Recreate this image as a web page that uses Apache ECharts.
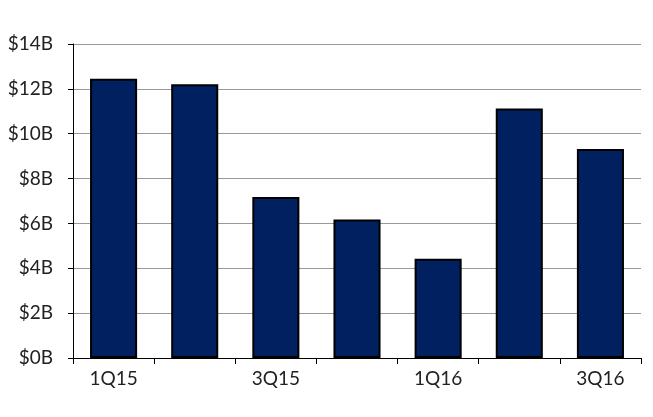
<!DOCTYPE html>
<html><head><meta charset="utf-8">
<script src="https://cdn.jsdelivr.net/npm/echarts@6/dist/echarts.min.js"></script>
<style>html,body{margin:0;padding:0;background:#fff}#c{width:653px;height:417px}</style>
</head><body><div id="c"></div>
<script>
var categories = ['1Q15','2Q15','3Q15','4Q15','1Q16','2Q16','3Q16'];
var values = [12.45, 12.2, 7.18, 6.17, 4.42, 11.12, 9.32];
var yTicks = [0, 2, 4, 6, 8, 10, 12, 14];
var chart = echarts.init(document.getElementById('c'));
chart.setOption({
  animation: false,
  grid: {left: 73, right: 12, top: 44, bottom: 59},
  xAxis: {
    type: 'category', data: categories,
    axisLine: {lineStyle: {color: '#000', width: 1}},
    axisTick: {show: true, length: 6, interval: 0, inside: false, lineStyle: {color: '#000'}},
    axisLabel: {interval: 1, margin: 11, fontFamily: 'Lato', fontSize: 19, color: '#222'}
  },
  yAxis: {
    type: 'value', min: 0, max: 14, interval: 2,
    axisLine: {show: true, lineStyle: {color: '#000', width: 1}},
    axisTick: {show: true, length: 5, lineStyle: {color: '#000'}},
    splitLine: {lineStyle: {color: '#999', width: 1}},
    axisLabel: {margin: 20, fontFamily: 'Lato', fontSize: 19, color: '#222',
      formatter: function(v){ return '$' + v + 'B'; }}
  },
  series: [{
    type: 'bar', data: values, barCategoryGap: '42%',
    itemStyle: {color: '#002060', borderColor: '#000', borderWidth: 2}
  }]
});
</script></body></html>
